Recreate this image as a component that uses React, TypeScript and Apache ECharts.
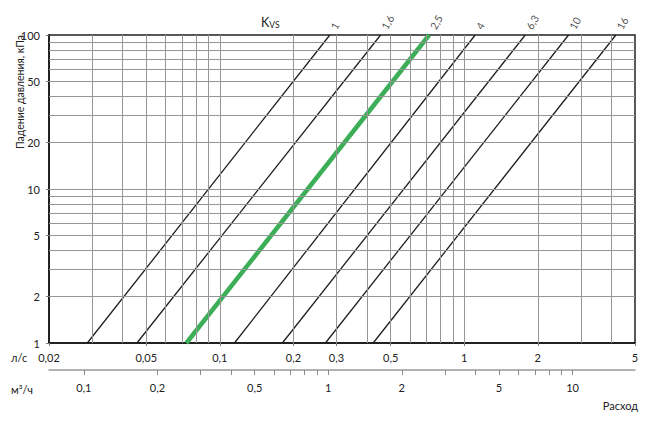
import React, { useEffect, useRef } from 'react';
import * as echarts from 'echarts';

// Kvs valve curves: flow (l/s) at a pressure drop of 1 kPa and of 100 kPa
const kvsLabels = ['1', '1,6', '2,5', '4', '6,3', '10', '16'];
const flowAt1kPa = [0.0287, 0.0458, 0.073, 0.1148, 0.1803, 0.2705, 0.4242];
const flowAt100kPa = [0.282, 0.455, 0.719, 1.109, 1.778, 2.674, 4.176];
const highlightedKvs = '2,5';

// axis ticks / labels
const flowTicksLs = [0.02, 0.05, 0.1, 0.2, 0.3, 0.5, 1, 2, 5];
const flowTicksM3h = [0.1, 0.2, 0.5, 1, 2, 5, 10];
const flowMinorTicksM3h = [0.1, 0.2, 0.3, 0.4, 0.5, 0.6, 0.7, 0.8, 0.9, 1, 2, 3, 4, 5, 6, 7, 8, 9, 10];
const pressureTicks = [1, 2, 5, 10, 20, 50, 100];

// grid lines
const flowGridLs = [0.03, 0.04, 0.05, 0.06, 0.07, 0.08, 0.09, 0.1, 0.2, 0.3, 0.4, 0.5, 0.6, 0.7, 0.8, 0.9, 1, 2, 3, 4];
const pressureGrid = [2, 3, 4, 5, 6, 7, 8, 9, 10, 20, 30, 40, 50, 60, 70, 80, 90];

const FLOW_MIN = 0.02;
const FLOW_MAX = 5;
const LS_TO_M3H = 3.6;

const FONT = 'Lato, "Noto Sans", sans-serif';
const fmt = (v: number) => String(+Number(v).toPrecision(6)).replace('.', ',');

export default function App() {
  const ref = useRef<HTMLDivElement>(null);

  useEffect(() => {
    if (!ref.current) return;
    const chart = echarts.init(ref.current, undefined, { renderer: 'svg' });

    const lineSeries = kvsLabels.map((name, i) => {
      const hl = name === highlightedKvs;
      return {
        type: 'line',
        name,
        xAxisIndex: 0,
        yAxisIndex: 0,
        data: [
          [flowAt1kPa[i], 1],
          [flowAt100kPa[i], 100],
        ],
        symbol: 'none',
        silent: true,
        z: hl ? 4 : 3,
        lineStyle: { color: hl ? '#3cae58' : '#1e1e1e', width: hl ? 4.5 : 1.3 },
      };
    });

    const option: any = {
      animation: false,
      textStyle: { fontFamily: FONT },
      grid: {
        left: 49,
        right: 30,
        top: 35,
        bottom: 90,
        show: true,
        borderColor: '#222',
        borderWidth: 1.5,
      },
      xAxis: [
        {
          type: 'log',
          logBase: 10,
          min: FLOW_MIN,
          max: FLOW_MAX,
          position: 'bottom',
          axisLine: { show: true, onZero: false, lineStyle: { color: '#222', width: 2 } },
          axisTick: { show: true, customValues: flowTicksLs, length: 3, lineStyle: { color: '#777' } },
          axisLabel: { customValues: flowTicksLs, formatter: fmt, margin: 9, fontSize: 11, color: '#222', fontFamily: FONT },
          splitLine: { show: false },
        },
        {
          type: 'log',
          logBase: 10,
          min: FLOW_MIN * LS_TO_M3H,
          max: FLOW_MAX * LS_TO_M3H,
          position: 'bottom',
          offset: 27,
          axisLine: { show: true, onZero: false, lineStyle: { color: '#999', width: 1.5 } },
          axisTick: { show: true, customValues: flowMinorTicksM3h, length: 5, lineStyle: { color: '#888' } },
          axisLabel: { customValues: flowTicksM3h, formatter: fmt, margin: 12, fontSize: 11, color: '#222', fontFamily: FONT },
          splitLine: { show: false },
        },
      ],
      yAxis: {
        type: 'log',
        logBase: 10,
        min: 1,
        max: 100,
        axisLine: { show: true, onZero: false, lineStyle: { color: '#222', width: 2 } },
        axisTick: { show: true, customValues: pressureTicks, length: 3, lineStyle: { color: '#777' } },
        axisLabel: { customValues: pressureTicks, formatter: fmt, margin: 9, fontSize: 11, color: '#222', fontFamily: FONT },
        splitLine: { show: false },
      },
      series: [
        {
          type: 'line',
          name: 'grid',
          xAxisIndex: 0,
          yAxisIndex: 0,
          data: [],
          silent: true,
          z: 1,
          markLine: {
            silent: true,
            symbol: 'none',
            label: { show: false },
            lineStyle: { color: '#959595', width: 1, type: 'solid' },
            data: [
              ...flowGridLs.map((v) => ({ xAxis: v })),
              ...pressureGrid.map((v) => ({ yAxis: v })),
            ],
          },
        },
        ...lineSeries,
        {
          type: 'scatter',
          name: 'labels',
          xAxisIndex: 0,
          yAxisIndex: 0,
          silent: true,
          clip: false,
          z: 5,
          symbolSize: 1,
          itemStyle: { color: 'transparent' },
          data: kvsLabels.map((name, i) => ({ value: [flowAt100kPa[i], 100], name })),
          label: {
            show: true,
            formatter: '{b}',
            position: [4, -6],
            rotate: 60,
            align: 'left',
            verticalAlign: 'middle',
            fontSize: 10.5,
            color: '#222',
            fontFamily: FONT,
          },
        },
      ],
      graphic: [
        {
          type: 'text',
          x: 14,
          y: 92,
          rotation: Math.PI / 2,
          style: {
            text: 'Падение давления, кПа',
            font: `10.5px ${FONT}`,
            fill: '#222',
            align: 'center',
            textAlign: 'center',
          },
        },
        {
          type: 'text',
          x: 261,
          y: 29,
          style: {
            text: '{k|K}{s|VS}',
            fill: '#222',
            verticalAlign: 'bottom',
            textVerticalAlign: 'bottom',
            rich: {
              k: { fontSize: 12.5, fontFamily: FONT, verticalAlign: 'bottom', lineHeight: 12 },
              s: { fontSize: 8.5, fontFamily: FONT, verticalAlign: 'bottom', lineHeight: 10 },
            },
          },
        },
        {
          type: 'text',
          x: 11,
          y: 357,
          style: { text: 'л/с', font: `11px ${FONT}`, fill: '#222', verticalAlign: 'middle', textVerticalAlign: 'middle' },
        },
        {
          type: 'text',
          x: 11,
          y: 389,
          style: { text: 'м³/ч', font: `11px ${FONT}`, fill: '#222', verticalAlign: 'middle', textVerticalAlign: 'middle' },
        },
        {
          type: 'text',
          x: 638,
          y: 405,
          style: {
            text: 'Расход',
            font: `11px ${FONT}`,
            fill: '#222',
            align: 'right',
            textAlign: 'right',
            verticalAlign: 'middle',
            textVerticalAlign: 'middle',
          },
        },
      ],
    };

    chart.setOption(option);
    return () => chart.dispose();
  }, []);

  return (
    <div
      ref={ref}
      style={{ position: 'fixed', left: 0, top: 0, width: 665, height: 433, background: '#fff' }}
    />
  );
}
